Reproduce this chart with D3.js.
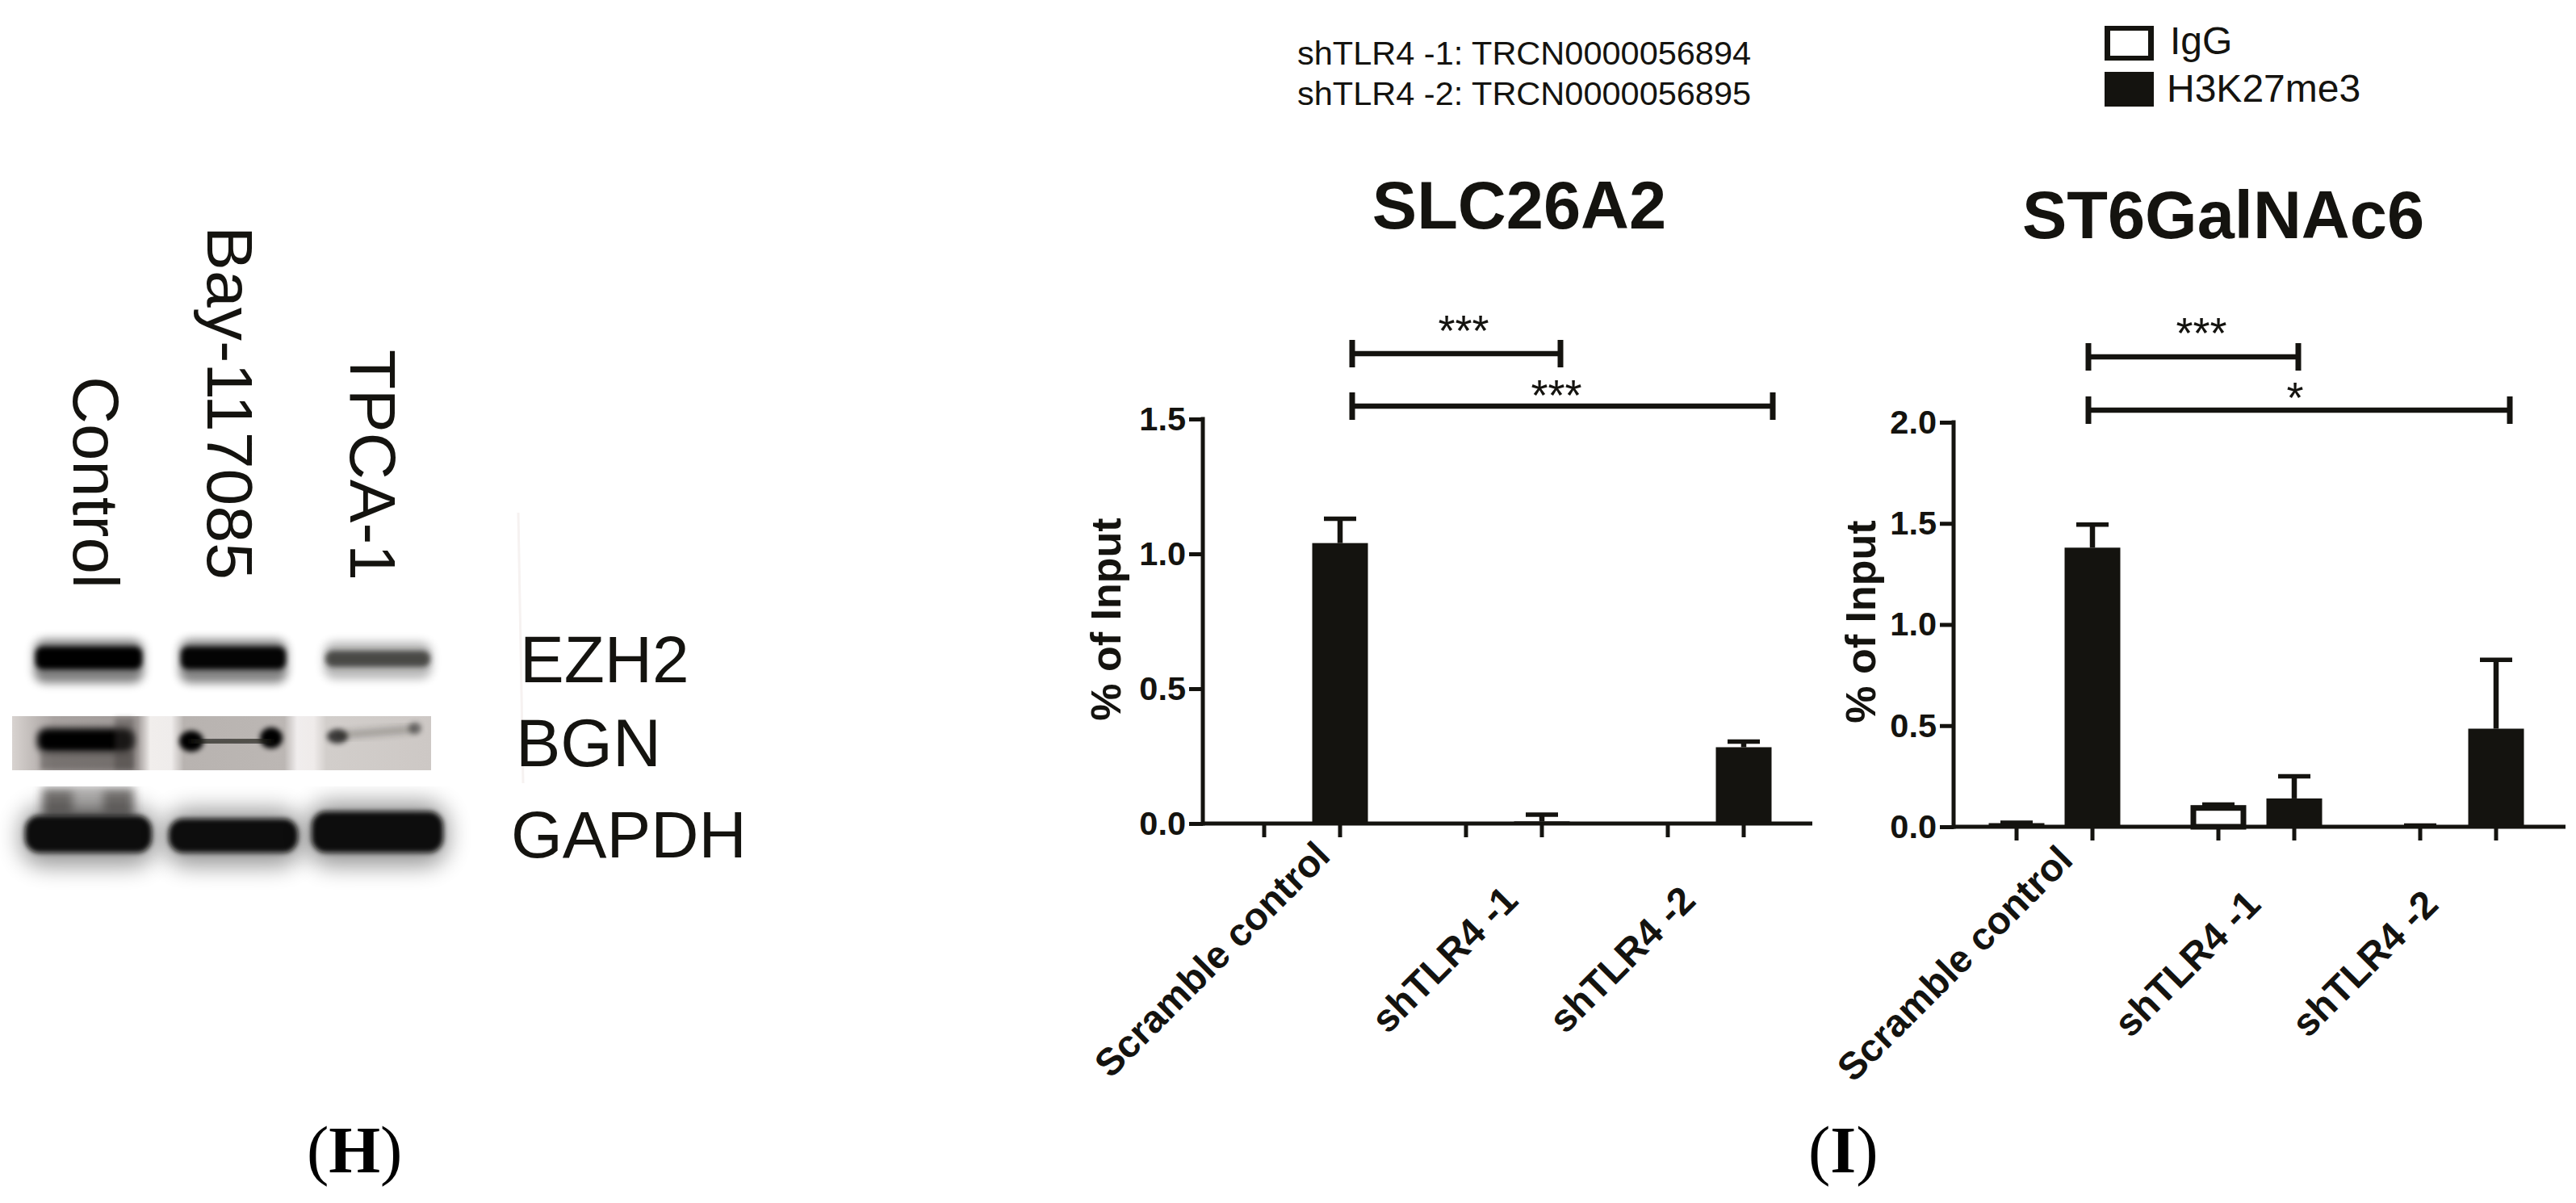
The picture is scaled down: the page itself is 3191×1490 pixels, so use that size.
<!DOCTYPE html>
<html><head><meta charset="utf-8">
<script src="https://cdn.jsdelivr.net/npm/d3@7"></script>
<style>html,body{margin:0;background:#fff}svg{display:block}text{font-family:"Liberation Sans",Arial,sans-serif;fill:#14130f}</style>
</head><body><svg id="c" width="3191" height="1490"></svg>
<script>
// ---- data ----
const groups = ["Scramble control", "shTLR4 -1", "shTLR4 -2"];
const seriesNames = ["IgG", "H3K27me3"];
const slcIgG = [0, 0, 0];
const slcIgGErr = [0, 0, 0];
const slcH3 = [1.04, 0.008, 0.283];
const slcH3Err = [1.13, 0.033, 0.304];
const stIgG = [0.018, 0.105, 0.004];
const stIgGErr = [0.02, 0.11, 0.006];
const stH3 = [1.38, 0.14, 0.485];
const stH3Err = [1.494, 0.25, 0.825];
const slcTicks = [0, 0.5, 1.0, 1.5];
const stTicks = [0, 0.5, 1.0, 1.5, 2.0];
const slcSig = ["***", "***"];
const stSig = ["***", "*"];
const notes = ["shTLR4 -1: TRCN0000056894", "shTLR4 -2: TRCN0000056895"];
const blotLanes = ["Control", "Bay-117085", "TPCA-1"];
const blotRows = ["EZH2", "BGN", "GAPDH"];
const ezh2Level = [1, 0.97, 0.8];
const bgnLevel = [0.98, 0.6, 0.3];
const gapdhLevel = [1, 1, 1];

// ---- drawing ----
const svg = d3.select("#c");
const ink = "#14130f";
const defs = svg.append("defs");
[["b3",3],["b4",4.5],["b6",6],["b9",9],["b14",14]].forEach(([id,s]) => {
  defs.append("filter").attr("id",id).attr("x","-30%").attr("y","-100%").attr("width","160%").attr("height","300%")
    .append("feGaussianBlur").attr("stdDeviation",s);
});
const hatch = defs.append("linearGradient").attr("id","bgnBg").attr("x1",0).attr("x2",1).attr("y1",0).attr("y2",0);
[[0,"#d8d3d0"],[0.1,"#a8a2a0"],[0.3,"#a09a98"],[0.33,"#f1eeec"],[0.38,"#efeceb"],[0.41,"#b8b3b0"],[0.65,"#bcb7b4"],[0.68,"#f0eded"],[0.72,"#efebea"],[0.75,"#d2cecb"],[1,"#cdc8c5"]]
  .forEach(([o,c]) => hatch.append("stop").attr("offset",o).attr("stop-color",c));

// blot
const blot = svg.append("g");
const laneX = d3.scaleBand().domain(blotLanes).range([28, 550]).padding(0);
const laneInset = [14, 20, 25];
const laneW = [136, 134, 134];
const laneLeft = i => laneX(blotLanes[i]) + laneInset[i];
// EZH2
ezh2Level.forEach((v,i) => {
  const x = laneLeft(i);
  blot.append("rect").attr("x",x).attr("y",i===2?795:792).attr("width",laneW[i]).attr("height",i===2?46:54).attr("rx",14)
    .attr("fill","#000").attr("opacity",v*(i===2?0.35:0.5)).attr("filter","url(#b6)");
  blot.append("rect").attr("x",x+2).attr("y",i===2?806:801).attr("width",laneW[i]-4).attr("height",i===2?20:28).attr("rx",9)
    .attr("fill",i===2?"#2f2d2b":"#050503").attr("opacity",v).attr("filter","url(#b3)");
});
// BGN
blot.append("rect").attr("x",15).attr("y",887).attr("width",519).attr("height",67).attr("fill","url(#bgnBg)");
const bgnG = blot.append("g");
bgnG.append("rect").attr("x",46).attr("y",902).attr("width",120).attr("height",30).attr("rx",12).attr("fill","#050505").attr("filter","url(#b4)");
bgnG.append("rect").attr("x",50).attr("y",931).attr("width",116).attr("height",23).attr("fill","#4a4542").attr("opacity",.5).attr("filter","url(#b3)");
bgnG.append("rect").attr("x",142).attr("y",889).attr("width",24).attr("height",65).attr("fill","#3f3a38").attr("opacity",.4).attr("filter","url(#b3)");
bgnLevel.forEach((v,i) => {
  if (i === 0) return;
  const x = laneLeft(i);
  bgnG.append("ellipse").attr("cx",x+(i===1?15:17)).attr("cy",i===1?918:912).attr("rx",i===1?15:13).attr("ry",i===1?13:9).attr("fill","#050504").attr("opacity",v+0.4).attr("filter","url(#b3)");
  bgnG.append("ellipse").attr("cx",x+(i===1?114:113)).attr("cy",i===1?914:902).attr("rx",i===1?14:8).attr("ry",i===1?13:7).attr("fill","#050504").attr("opacity",v+(i===1?0.4:0.15)).attr("filter","url(#b3)");
  bgnG.append("line").attr("x1",x+15).attr("x2",x+114).attr("y1",i===1?919:911).attr("y2",i===1?917:903).attr("stroke","#1a1a18").attr("stroke-width",i===1?14:8).attr("opacity",v+(i===1?0.15:0)).attr("filter","url(#b4)");
});
// GAPDH
blot.append("rect").attr("x",52).attr("y",976).attr("width",114).attr("height",36).attr("fill","#4b4745").attr("opacity",.75).attr("filter","url(#b6)");
blot.append("rect").attr("x",90).attr("y",976).attr("width",38).attr("height",30).attr("fill","#fff").attr("opacity",.45).attr("filter","url(#b6)");
gapdhLevel.forEach((v,i) => {
  const x = [31,209,386][i], w = [157,160,163][i], top = [1010,1014,1005][i];
  blot.append("rect").attr("x",x-6).attr("y",top-12).attr("width",w+12).attr("height",1085-top).attr("rx",30).attr("fill","#000").attr("opacity",.4*v).attr("filter","url(#b14)");
  blot.append("rect").attr("x",x).attr("y",top).attr("width",w).attr("height",1056-top).attr("rx",18).attr("fill","#0b0b08").attr("opacity",v).attr("filter","url(#b3)");
});
blot.append("rect").attr("x",0).attr("y",954).attr("width",560).attr("height",20).attr("fill","#fff");
blot.append("line").attr("x1",642).attr("x2",648).attr("y1",635).attr("y2",970).attr("stroke","#f6f2f1").attr("stroke-width",3);

// blot labels
const rotText = (t,x,y0,len) => svg.append("text").text(t).attr("transform",`translate(${x},${y0}) rotate(90)`)
  .attr("font-size",80).attr("textLength",len).attr("lengthAdjust","spacingAndGlyphs");
rotText(blotLanes[0],91,466,263);
rotText(blotLanes[1],257,280,438);
rotText(blotLanes[2],434,433,286);
svg.append("text").text(blotRows[0]).attr("x",644).attr("y",845).attr("font-size",82);
svg.append("text").text(blotRows[1]).attr("x",639).attr("y",949).attr("font-size",83);
svg.append("text").text(blotRows[2]).attr("x",633).attr("y",1062).attr("font-size",82);

// panel labels
[["H",380],["I",2240]].forEach(([l,x]) => {
  const t = svg.append("text").attr("x",x).attr("y",1452).attr("font-size",82).style("font-family","'Liberation Serif',serif").style("fill","#000");
  t.append("tspan").text("(");
  t.append("tspan").text(l).attr("font-weight","bold");
  t.append("tspan").text(")");
});

// notes + legend
notes.forEach((n,i) => svg.append("text").text(n).attr("x",1607).attr("y",80+i*50).attr("font-size",41.5));
const lg = svg.append("g");
seriesNames.forEach((s,i) => {
  const top = [32,89][i];
  lg.append("rect").attr("x",2607).attr("y",top).attr("width",61).attr("height",43).attr("fill",ink);
  if(!i) lg.append("rect").attr("x",2614).attr("y",top+6).attr("width",47).attr("height",31).attr("fill","#fff");
  lg.append("text").text(s).attr("x",[2688,2684][i]).attr("y",[67,126][i]).attr("font-size",48);
});

function panel(o){
  const g = svg.append("g");
  const y = d3.scaleLinear().domain([0,o.max]).range([o.y0,o.yTop]);
  const x = d3.scaleBand().domain(groups).range([o.xL,o.xL+750]);
  const inner = d3.scaleBand().domain(seriesNames).range([-94,94]).paddingInner(.266).paddingOuter(.133);
  const cx = (gi,s) => x(groups[gi])+x.bandwidth()/2+inner(s);
  const w = inner.bandwidth();
  const stroke = 5;
  // bars
  [[seriesNames[0],o.igg,o.iggErr],[seriesNames[1],o.h3,o.h3Err]].forEach(([s,vals,errs]) => {
    vals.forEach((v,i) => {
      if (v<=0) return;
      const mid = cx(i,s)+w/2;
      g.append("line").attr("x1",mid).attr("x2",mid).attr("y1",y(errs[i])).attr("y2",y(v)).attr("stroke",ink).attr("stroke-width",6.5);
      g.append("line").attr("x1",mid-20).attr("x2",mid+20).attr("y1",y(errs[i])).attr("y2",y(errs[i])).attr("stroke",ink).attr("stroke-width",5.5);
      if (s===seriesNames[0] && v>0.05){
        g.append("rect").attr("x",cx(i,s)+3.5).attr("y",y(v)+3).attr("width",w-7).attr("height",y(0)-y(v)-3).attr("fill","#fff").attr("stroke",ink).attr("stroke-width",7);
      } else {
        g.append("rect").attr("x",cx(i,s)).attr("y",y(v)).attr("width",w).attr("height",y(0)-y(v)).attr("fill",ink);
      }
    });
  });
  // axes
  const ya = d3.axisLeft(y).tickValues(o.ticks).tickFormat(d3.format(".1f")).tickSize(17).tickPadding(4);
  const yg = g.append("g").attr("transform",`translate(${o.xAxis},0)`).call(ya);
  yg.selectAll("path,line").attr("stroke",ink).attr("stroke-width",stroke);
  yg.select("path").attr("d",`M0,${y(0)+2.5}V${y(o.max)-2.5}`);
  yg.selectAll("text").attr("font-size",41.5).attr("font-weight","bold").style("font-family","'Liberation Sans',Arial,sans-serif").attr("fill",ink);
  const baseG = g.append("g");
  baseG.append("line").attr("x1",o.xAxis).attr("x2",o.xEnd).attr("y1",y(0)).attr("y2",y(0)).attr("stroke",ink).attr("stroke-width",stroke);
  const tickPos = [];
  groups.forEach((_,i) => seriesNames.forEach(s => tickPos.push(cx(i,s)+w/2)));
  baseG.selectAll(null).data(tickPos).join("line").attr("x1",d=>d).attr("x2",d=>d).attr("y1",y(0)).attr("y2",y(0)+17).attr("stroke",ink).attr("stroke-width",stroke);
  // category labels
  const lblDx = [o.lblBase-109,o.lblBase-71,o.lblBase-101];
  groups.forEach((c,i) => {
    g.append("text").text(c).attr("text-anchor","middle").attr("dominant-baseline","middle").attr("font-weight","bold").attr("font-size",i?48:47.5)
      .attr("transform",`translate(${x(c)+x.bandwidth()/2+lblDx[i]},${o.lblY}) rotate(-45)`);
  });
  // y title
  g.append("text").text("% of Input").attr("text-anchor","middle").attr("font-weight","bold").attr("font-size",52)
    .attr("transform",`translate(${o.titleX},${o.titleY}) rotate(-90)`);
  // plot title
  g.append("text").text(o.title).attr("text-anchor","middle").attr("font-weight","bold").attr("font-size",83).attr("x",o.titleCx).attr("y",o.titleBase);
  // brackets
  [0,1].forEach(i => {
    const yy = o.brY[i], a = o.brL, b = o.brR[i];
    g.append("line").attr("x1",a).attr("x2",b).attr("y1",yy).attr("y2",yy).attr("stroke",ink).attr("stroke-width",6.5);
    [a,b].forEach(p => g.append("line").attr("x1",p).attr("x2",p).attr("y1",yy-17).attr("y2",yy+17).attr("stroke",ink).attr("stroke-width",7));
    g.append("text").text(o.sig[i]).attr("text-anchor","middle").attr("font-size",54).attr("x",o.sigX[i]).attr("y",o.sigY[i]);
  });
}
panel({title:"SLC26A2",titleCx:1882,titleBase:283,max:1.5,y0:1020,yTop:519,xL:1488,xAxis:1490,xEnd:2245,ticks:slcTicks,
  igg:slcIgG,iggErr:slcIgGErr,h3:slcH3,h3Err:slcH3Err,sig:slcSig,lblBase:0,lblY:1191,titleX:1388,titleY:767,
  brL:1675,brR:[1933,2196],brY:[438,503],sigX:[1813,1928],sigY:[428,508]});
panel({title:"ST6GalNAc6",titleCx:2754,titleBase:295,max:2,y0:1024,yTop:523,xL:2420,xAxis:2420,xEnd:3178,ticks:stTicks,
  igg:stIgG,iggErr:stIgGErr,h3:stH3,h3Err:stH3Err,sig:stSig,lblBase:-12,lblY:1196,titleX:2323,titleY:770,
  brL:2587,brR:[2847,3109],brY:[442,508],sigX:[2727,2843],sigY:[431,511]});
</script></body></html>
